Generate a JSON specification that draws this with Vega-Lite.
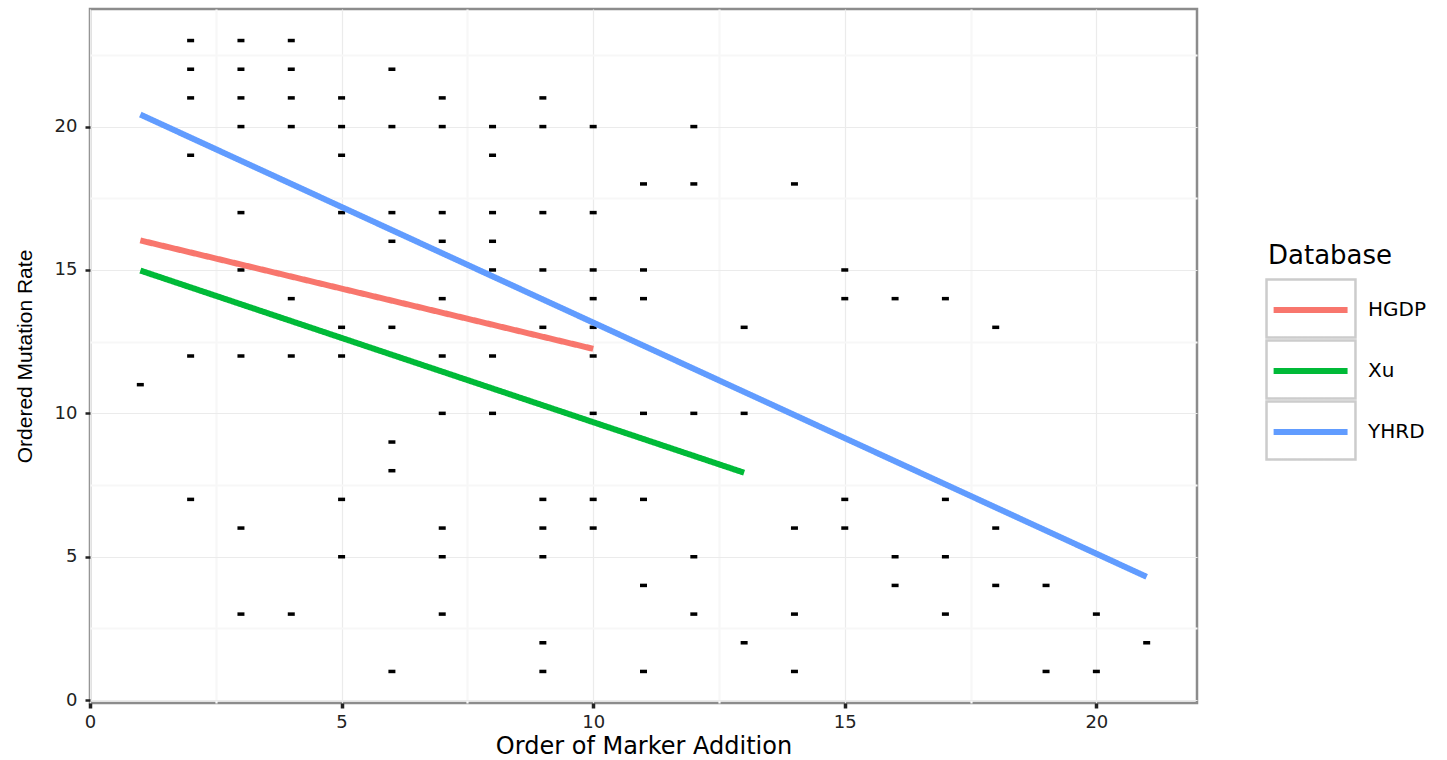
{
  "$schema": "https://vega.github.io/schema/vega-lite/v6.json",
  "autosize": "none",
  "width": 1107,
  "height": 694,
  "padding": {"left": 90, "top": 9, "right": 250, "bottom": 57},
  "background": "white",
  "datasets": {
    "points": [
      {"order": 1, "rate": 11},
      {"order": 2, "rate": 23}, {"order": 2, "rate": 22}, {"order": 2, "rate": 21}, {"order": 2, "rate": 19}, {"order": 2, "rate": 12}, {"order": 2, "rate": 7},
      {"order": 3, "rate": 23}, {"order": 3, "rate": 22}, {"order": 3, "rate": 21}, {"order": 3, "rate": 20}, {"order": 3, "rate": 17}, {"order": 3, "rate": 15}, {"order": 3, "rate": 12}, {"order": 3, "rate": 6}, {"order": 3, "rate": 3},
      {"order": 4, "rate": 23}, {"order": 4, "rate": 22}, {"order": 4, "rate": 21}, {"order": 4, "rate": 20}, {"order": 4, "rate": 14}, {"order": 4, "rate": 12}, {"order": 4, "rate": 3},
      {"order": 5, "rate": 21}, {"order": 5, "rate": 20}, {"order": 5, "rate": 19}, {"order": 5, "rate": 17}, {"order": 5, "rate": 13}, {"order": 5, "rate": 12}, {"order": 5, "rate": 7}, {"order": 5, "rate": 5},
      {"order": 6, "rate": 22}, {"order": 6, "rate": 20}, {"order": 6, "rate": 17}, {"order": 6, "rate": 16}, {"order": 6, "rate": 13}, {"order": 6, "rate": 9}, {"order": 6, "rate": 8}, {"order": 6, "rate": 1},
      {"order": 7, "rate": 21}, {"order": 7, "rate": 20}, {"order": 7, "rate": 17}, {"order": 7, "rate": 16}, {"order": 7, "rate": 14}, {"order": 7, "rate": 12}, {"order": 7, "rate": 10}, {"order": 7, "rate": 6}, {"order": 7, "rate": 5}, {"order": 7, "rate": 3},
      {"order": 8, "rate": 20}, {"order": 8, "rate": 19}, {"order": 8, "rate": 17}, {"order": 8, "rate": 16}, {"order": 8, "rate": 15}, {"order": 8, "rate": 12}, {"order": 8, "rate": 10},
      {"order": 9, "rate": 21}, {"order": 9, "rate": 20}, {"order": 9, "rate": 17}, {"order": 9, "rate": 15}, {"order": 9, "rate": 13}, {"order": 9, "rate": 7}, {"order": 9, "rate": 6}, {"order": 9, "rate": 5}, {"order": 9, "rate": 2}, {"order": 9, "rate": 1},
      {"order": 10, "rate": 20}, {"order": 10, "rate": 17}, {"order": 10, "rate": 15}, {"order": 10, "rate": 14}, {"order": 10, "rate": 13}, {"order": 10, "rate": 12}, {"order": 10, "rate": 10}, {"order": 10, "rate": 7}, {"order": 10, "rate": 6},
      {"order": 11, "rate": 18}, {"order": 11, "rate": 15}, {"order": 11, "rate": 14}, {"order": 11, "rate": 10}, {"order": 11, "rate": 7}, {"order": 11, "rate": 4}, {"order": 11, "rate": 1},
      {"order": 12, "rate": 20}, {"order": 12, "rate": 18}, {"order": 12, "rate": 10}, {"order": 12, "rate": 5}, {"order": 12, "rate": 3},
      {"order": 13, "rate": 13}, {"order": 13, "rate": 10}, {"order": 13, "rate": 2},
      {"order": 14, "rate": 18}, {"order": 14, "rate": 6}, {"order": 14, "rate": 3}, {"order": 14, "rate": 1},
      {"order": 15, "rate": 15}, {"order": 15, "rate": 14}, {"order": 15, "rate": 7}, {"order": 15, "rate": 6},
      {"order": 16, "rate": 14}, {"order": 16, "rate": 5}, {"order": 16, "rate": 4},
      {"order": 17, "rate": 14}, {"order": 17, "rate": 7}, {"order": 17, "rate": 5}, {"order": 17, "rate": 3},
      {"order": 18, "rate": 13}, {"order": 18, "rate": 6}, {"order": 18, "rate": 4},
      {"order": 19, "rate": 4}, {"order": 19, "rate": 1},
      {"order": 20, "rate": 3}, {"order": 20, "rate": 1},
      {"order": 21, "rate": 2}
    ],
    "lines": [
      {"Database": "HGDP", "order": 1, "rate": 16.03},
      {"Database": "HGDP", "order": 10, "rate": 12.25},
      {"Database": "Xu", "order": 1, "rate": 14.98},
      {"Database": "Xu", "order": 13, "rate": 7.93},
      {"Database": "YHRD", "order": 1, "rate": 20.42},
      {"Database": "YHRD", "order": 21, "rate": 4.3}
    ]
  },
  "encoding": {
    "x": {
      "field": "order",
      "type": "quantitative",
      "scale": {"domain": [0, 22], "nice": false, "zero": false},
      "axis": {
        "title": "Order of Marker Addition",
        "values": [0, 2.5, 5, 7.5, 10, 12.5, 15, 17.5, 20],
        "labelExpr": "datum.value % 5 === 0 ? datum.label : ''",
        "gridColor": {"condition": {"test": "datum.value % 5 === 0", "value": "#ebebeb"}, "value": "#f7f7f7"},
        "gridWidth": {"condition": {"test": "datum.value % 5 === 0", "value": 1.2}, "value": 2.2},
        "tickColor": {"condition": {"test": "datum.value % 5 === 0", "value": "#222222"}, "value": "transparent"},
        "tickSize": 5,
        "tickWidth": 3.5,
        "domain": false,
        "labelFlush": false,
        "labelOverlap": false,
        "labelFont": "DejaVu Sans",
        "labelFontSize": 18,
        "labelColor": "#222222",
        "labelPadding": 5,
        "titleFont": "DejaVu Sans",
        "titleFontSize": 24,
        "titleFontWeight": "normal",
        "titleColor": "black",
        "titleY": 50,
        "titleBaseline": "alphabetic"
      }
    },
    "y": {
      "field": "rate",
      "type": "quantitative",
      "scale": {"domain": [-0.1, 24.1], "nice": false, "zero": false},
      "axis": {
        "title": "Ordered Mutation Rate",
        "values": [0, 2.5, 5, 7.5, 10, 12.5, 15, 17.5, 20, 22.5],
        "labelExpr": "datum.value % 5 === 0 ? datum.label : ''",
        "gridColor": {"condition": {"test": "datum.value % 5 === 0", "value": "#ebebeb"}, "value": "#f7f7f7"},
        "gridWidth": {"condition": {"test": "datum.value % 5 === 0", "value": 1.2}, "value": 2.2},
        "tickColor": {"condition": {"test": "datum.value % 5 === 0", "value": "#222222"}, "value": "transparent"},
        "tickSize": 5,
        "tickWidth": 2.5,
        "domain": false,
        "labelFlush": false,
        "labelOverlap": false,
        "labelFont": "DejaVu Sans",
        "labelFontSize": 18,
        "labelColor": "#222222",
        "labelPadding": 8,
        "titleFont": "Liberation Sans",
        "titleFontSize": 21,
        "titleFontWeight": "normal",
        "titleColor": "black",
        "titleX": -65,
        "titleBaseline": "middle"
      }
    }
  },
  "layer": [
    {
      "data": {"name": "points"},
      "mark": {"type": "tick", "orient": "horizontal", "size": 7, "thickness": 3.5, "color": "black", "opacity": 1}
    },
    {
      "data": {"name": "lines"},
      "mark": {"type": "line", "strokeWidth": 6, "strokeCap": "butt"},
      "encoding": {
        "color": {
          "field": "Database",
          "type": "nominal",
          "scale": {"range": ["#F8766D", "#00BA38", "#619CFF"]},
          "legend": {
            "title": "Database",
            "orient": "none",
            "legendX": 1178,
            "legendY": 234,
            "zindex": 1,
            "padding": 0,
            "titleFont": "DejaVu Sans",
            "titleFontSize": 26,
            "titleFontWeight": "normal",
            "titleColor": "black",
            "titlePadding": 10.5,
            "symbolType": "M -0.94 0 H 0.76",
            "symbolSize": 7569,
            "symbolStrokeWidth": 6,
            "clipHeight": 61,
            "labelFont": "DejaVu Sans",
            "labelFontSize": 20,
            "labelColor": "black",
            "labelOffset": 7,
            "rowPadding": 0
          }
        },
        "strokeDash": {
          "field": "Database",
          "type": "nominal",
          "scale": {"domain": ["HGDP", "Xu", "YHRD"], "range": [[1, 0], [1, 0], [1, 0]]},
          "legend": {
            "title": null,
            "orient": "none",
            "legendX": 1173.5,
            "legendY": 269,
            "zindex": 0,
            "padding": 0,
            "symbolType": "M -0.967 -0.63 H 0.967 V 0.63 H -0.967 Z",
            "symbolSize": 8464,
            "clipHeight": 61,
            "labelExpr": "''",
            "labelFontSize": 1,
            "rowPadding": 0,
            "encode": {
              "symbols": {
                "update": {
                  "fill": {"value": "white"},
                  "stroke": {"value": "#cccccc"},
                  "strokeWidth": {"value": 2.5},
                  "strokeDash": {"value": []},
                  "opacity": {"value": 1}
                }
              }
            }
          }
        }
      }
    }
  ],
  "config": {
    "view": {"stroke": "#8c8c8c", "strokeWidth": 2.5},
    "legend": {"symbolOpacity": 1}
  }
}
